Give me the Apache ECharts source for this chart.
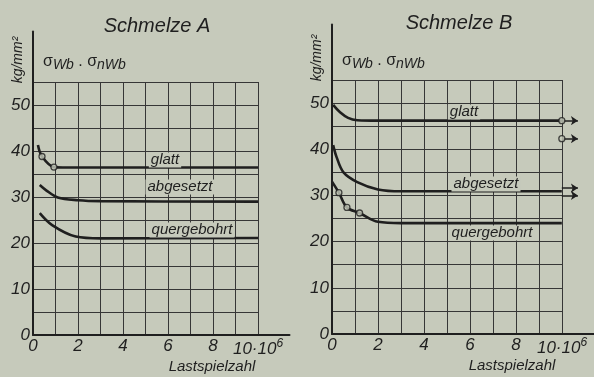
<!DOCTYPE html>
<html>
<head>
<meta charset="utf-8">
<script src="https://cdn.jsdelivr.net/npm/echarts@6/dist/echarts.min.js"></script>
<style>
html,body{margin:0;padding:0;background:#c6cabb;}
#c{width:594px;height:377px;}
</style>
</head>
<body>
<div id="c"></div>
<script>
// ---- data (x in 10^6 load cycles, y in kg/mm²) ----
const xTicks = [0, 2, 4, 6, 8, 10];
const xTickLabels = ['0', '2', '4', '6', '8', '10·10{sup|6}'];
const yTicks = [0, 10, 20, 30, 40, 50];

const glattA = [[0.22, 41.3], [0.4, 38.8], [0.93, 36.5], [1.5, 36.4], [3, 36.4], [10, 36.4]];
const abgesetztA = [[0.3, 32.6], [0.6, 31.4], [1.1, 29.9], [2, 29.3], [3, 29.1], [10, 29.0]];
const quergebohrtA = [[0.3, 26.5], [0.85, 23.9], [1.9, 21.4], [3, 21.0], [10, 21.1]];
const pointsA = [[0.4, 38.8], [0.93, 36.5]];

const glattB = [[0.05, 49.6], [0.35, 48.0], [0.7, 46.8], [1.1, 46.3], [2, 46.2], [10, 46.2]];
const abgesetztB = [[0.05, 40.9], [0.2, 38.3], [0.5, 35.0], [1.1, 32.9], [2, 31.3], [3, 30.9], [10, 30.9]];
const quergebohrtB = [[0.0, 33.0], [0.3, 30.6], [0.65, 27.4], [1.2, 26.2], [2, 24.3], [3, 24.0], [10, 24.0]];
const pointsB = [[0.3, 30.6], [0.65, 27.4], [1.2, 26.2], [10, 46.2], [10, 42.3]];
const runoutB = [46.2, 42.3, 31.6, 30.0];
const runoutEnd = 10.7;

// ---- styles ----
const INK = '#1f1f1f';
const FONT = 'Liberation Sans';
const BG = '#c6cabb';

function mainX(idx) {
  return {
    gridIndex: idx, type: 'value', min: 0, max: 10, interval: 1,
    axisLine: {show: false}, axisTick: {show: false},
    splitLine: {show: true, lineStyle: {color: '#363636', width: 1}},
    axisLabel: {
      color: INK, fontFamily: FONT, fontStyle: 'italic', fontSize: 17, margin: 3,
      formatter: v => { const i = xTicks.indexOf(v); return i < 0 ? '' : xTickLabels[i]; },
      rich: {sup: {fontSize: 12, fontStyle: 'italic', fontFamily: FONT, color: INK, verticalAlign: 'top', padding: [0, 0, 10, 0]}}
    }
  };
}
function mainY(idx) {
  return {
    gridIndex: idx, type: 'value', min: 0, max: 55, interval: 5,
    axisLine: {show: false}, axisTick: {show: false},
    splitLine: {show: true, lineStyle: {color: '#363636', width: 1}},
    axisLabel: {
      color: INK, fontFamily: FONT, fontStyle: 'italic', fontSize: 17, margin: 3,
      formatter: v => (yTicks.indexOf(v) < 0 ? '' : String(v))
    }
  };
}
function extX(idx) {
  return {gridIndex: idx, type: 'value', min: 0, max: 11.4,
    axisLine: {show: true, lineStyle: {color: INK, width: 2}},
    axisTick: {show: false}, axisLabel: {show: false}, splitLine: {show: false}};
}
function extY(idx, max) {
  return {gridIndex: idx, type: 'value', min: 0, max: max,
    axisLine: {show: true, lineStyle: {color: INK, width: 2}},
    axisTick: {show: false}, axisLabel: {show: false}, splitLine: {show: false}};
}
function curve(data, ax) {
  return {type: 'line', xAxisIndex: ax, yAxisIndex: ax, data: data, smooth: 0.35,
    symbol: 'none', lineStyle: {color: INK, width: 2.6}, z: 5, silent: true};
}
function pts(data, ax) {
  return {type: 'scatter', xAxisIndex: ax, yAxisIndex: ax, data: data, symbol: 'circle',
    symbolSize: 6, itemStyle: {color: BG, borderColor: INK, borderWidth: 1.3}, z: 6, silent: true};
}

const pxA = 4.6, pxB = 254 / 55;
const option = {
  backgroundColor: BG,
  animation: false,
  grid: [
    {left: 33, top: 82, width: 225, height: 253},
    {left: 33, top: 335 - 66 * pxA, width: 225 * 1.14, height: 66 * pxA},
    {left: 332, top: 80, width: 230, height: 254},
    {left: 332, top: 334 - 67 * pxB, width: 230 * 1.14, height: 67 * pxB}
  ],
  xAxis: [mainX(0), extX(1), mainX(2), extX(3)],
  yAxis: [mainY(0), extY(1, 66), mainY(2), extY(3, 67)],
  series: [
    curve(glattA, 1), curve(abgesetztA, 1), curve(quergebohrtA, 1), pts(pointsA, 1),
    curve(glattB, 3), curve(abgesetztB, 3), curve(quergebohrtB, 3),
    {
      type: 'lines', coordinateSystem: 'cartesian2d', xAxisIndex: 3, yAxisIndex: 3,
      symbol: ['none', 'arrow'], symbolSize: 7,
      lineStyle: {color: INK, width: 1.6, opacity: 1},
      data: runoutB.map(y => ({coords: [[10, y], [runoutEnd, y]]})), z: 5, silent: true
    },
    pts(pointsB, 3)
  ],
  graphic: [
    {type: 'text', x: 157, y: 26, style: {text: 'Schmelze A', font: 'italic 20px "Liberation Sans"', fill: INK, align: 'center', verticalAlign: 'middle'}},
    {type: 'text', x: 459, y: 23, style: {text: 'Schmelze B', font: 'italic 20px "Liberation Sans"', fill: INK, align: 'center', verticalAlign: 'middle'}},
    {type: 'text', x: 43, y: 62, style: {text: 'σ{b|Wb} . σ{b|nWb}', font: '16px "Liberation Sans"', fill: INK, verticalAlign: 'middle',
      rich: {b: {font: 'italic 14px "Liberation Sans"', fill: INK, padding: [6, 0, 0, 0]}}}},
    {type: 'text', x: 342, y: 61, style: {text: 'σ{b|Wb} . σ{b|nWb}', font: '16px "Liberation Sans"', fill: INK, verticalAlign: 'middle',
      rich: {b: {font: 'italic 14px "Liberation Sans"', fill: INK, padding: [6, 0, 0, 0]}}}},
    {type: 'text', x: 18, y: 60, rotation: Math.PI / 2, style: {text: 'kg/mm²', font: 'italic 14px "Liberation Sans"', fill: INK, align: 'center', verticalAlign: 'middle'}},
    {type: 'text', x: 317, y: 58, rotation: Math.PI / 2, style: {text: 'kg/mm²', font: 'italic 14px "Liberation Sans"', fill: INK, align: 'center', verticalAlign: 'middle'}},
    {type: 'text', x: 212, y: 367, style: {text: 'Lastspielzahl', font: 'italic 15px "Liberation Sans"', fill: INK, align: 'center', verticalAlign: 'middle'}},
    {type: 'text', x: 512, y: 366, style: {text: 'Lastspielzahl', font: 'italic 15px "Liberation Sans"', fill: INK, align: 'center', verticalAlign: 'middle'}},
    // curve labels
    {type: 'text', x: 165, y: 160, z: 10, style: {text: 'glatt', font: 'italic 15px "Liberation Sans"', fill: INK, align: 'center', verticalAlign: 'middle', backgroundColor: BG, padding: [0, 2]}},
    {type: 'text', x: 180, y: 187, z: 10, style: {text: 'abgesetzt', font: 'italic 15px "Liberation Sans"', fill: INK, align: 'center', verticalAlign: 'middle', backgroundColor: BG, padding: [0, 2]}},
    {type: 'text', x: 192, y: 230, z: 10, style: {text: 'quergebohrt', font: 'italic 15px "Liberation Sans"', fill: INK, align: 'center', verticalAlign: 'middle', backgroundColor: BG, padding: [0, 2]}},
    {type: 'text', x: 464, y: 112, z: 10, style: {text: 'glatt', font: 'italic 15px "Liberation Sans"', fill: INK, align: 'center', verticalAlign: 'middle', backgroundColor: BG, padding: [0, 2]}},
    {type: 'text', x: 486, y: 184, z: 10, style: {text: 'abgesetzt', font: 'italic 15px "Liberation Sans"', fill: INK, align: 'center', verticalAlign: 'middle', backgroundColor: BG, padding: [0, 2]}},
    {type: 'text', x: 492, y: 233, z: 10, style: {text: 'quergebohrt', font: 'italic 15px "Liberation Sans"', fill: INK, align: 'center', verticalAlign: 'middle', backgroundColor: BG, padding: [0, 2]}}
  ]
};
const chart = echarts.init(document.getElementById('c'), null, {renderer: 'canvas'});
chart.setOption(option);
</script>
</body>
</html>
